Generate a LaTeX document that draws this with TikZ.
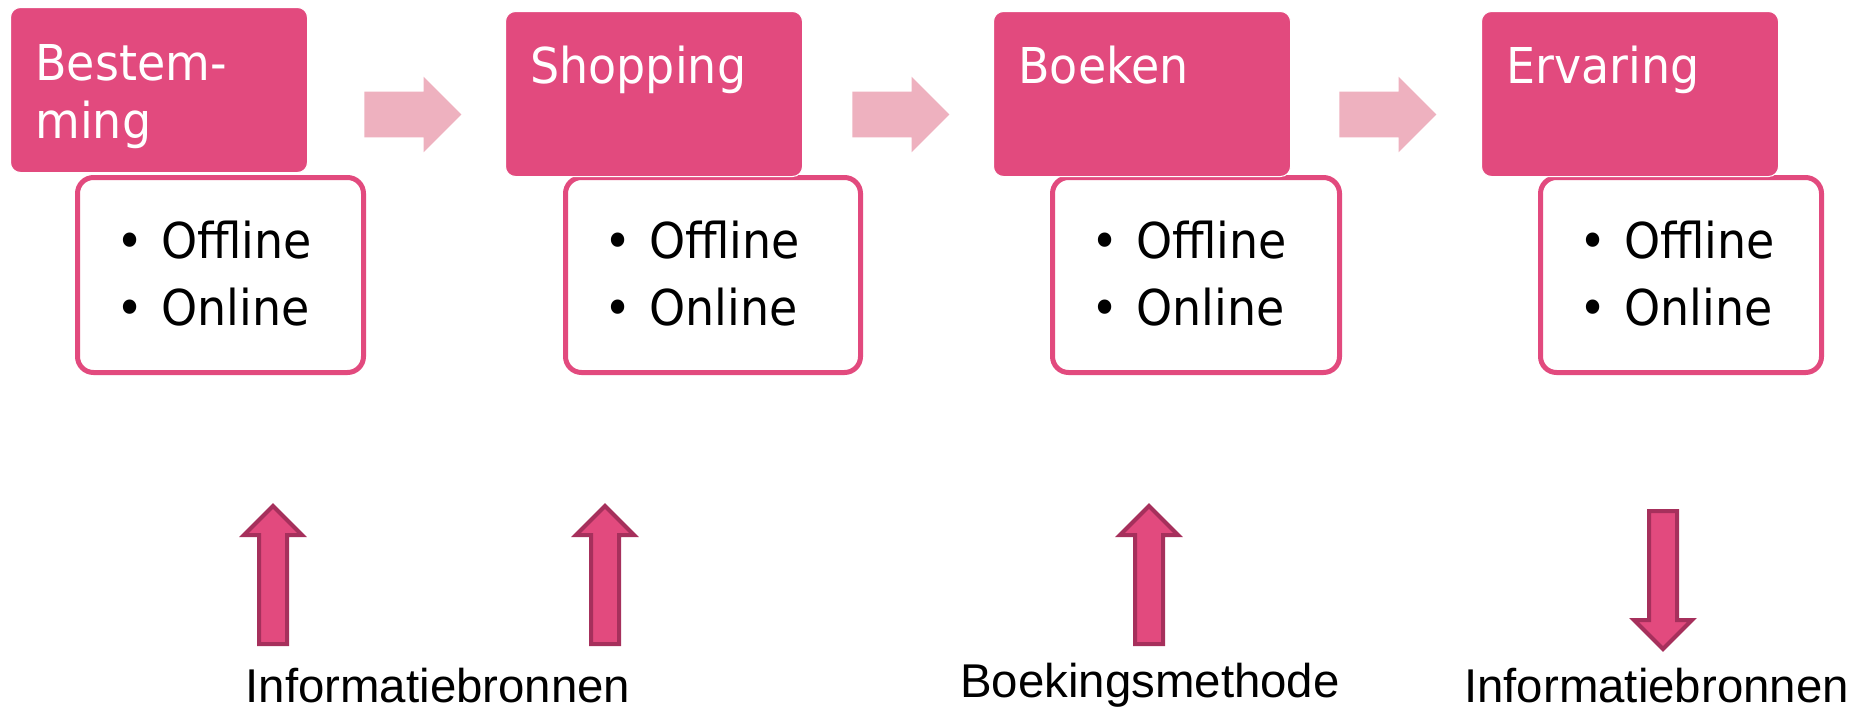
\documentclass[tikz,border=0pt]{standalone}
\usepackage{fontspec}
\setmainfont{Liberation Sans}
\newfontfamily\tahoma[FakeStretch=0.93]{DejaVu Sans}
\usepackage{tikz}
\usetikzlibrary{calc,shapes.arrows}
\definecolor{roze}{HTML}{E24A7E}
\definecolor{lichtroze}{HTML}{EEB1BF}
\definecolor{donkerroze}{HTML}{A6305C}
\newcommand{\blt}{\makebox[22.5pt][l]{\textbullet}}

\begin{document}
\begin{tikzpicture}[x=0.5pt,y=-0.5pt,
  fase/.style={fill=roze, draw=white, line width=0.5pt, rounded corners=5pt,
    minimum width=148.5pt, minimum height=82.5pt, anchor=north west, inner sep=0pt},
  fasetekst/.style={anchor=base west, inner sep=0pt, text=white, align=left,
    font=\tahoma\fontsize{24.7}{29}\selectfont},
  lijst/.style={fill=white, draw=roze, line width=2.5pt, rounded corners=8pt,
    minimum height=97.5pt, anchor=north west, inner sep=0pt},
  lijsttekst/.style={anchor=base west, inner sep=0pt, align=left,
    font=\tahoma\fontsize{24.7}{33.5}\selectfont},
  schakel/.style={single arrow, fill=lichtroze, minimum height=48.5pt,
    minimum width=37.5pt, single arrow head extend=7.5pt, single arrow tip angle=90,
    inner xsep=0pt, inner ysep=11.25pt, anchor=tail},
  bron/.style={single arrow, fill=roze, draw=donkerroze, line width=2pt,
    minimum height=69pt, minimum width=27pt, single arrow head extend=7.5pt,
    single arrow tip angle=90, inner xsep=0pt, inner ysep=6pt, anchor=tail},
  onder/.style={anchor=base, inner sep=0pt, font=\fontsize{23.7}{28}\selectfont}]
\useasboundingbox (0,0) rectangle (1872,713);

\node[lijst, minimum width=143pt] (bestemming-lijst) at (75,175) {};
\node[lijst, minimum width=147.5pt] (shopping-lijst) at (563,175) {};
\node[lijst, minimum width=143.5pt] (boeken-lijst) at (1050,175) {};
\node[lijst, minimum width=140.5pt] (ervaring-lijst) at (1538,175) {};

\node[fase] (bestemming) at (10,7) {};
\node[fase] (shopping) at (505,11) {};
\node[fase] (boeken) at (993,11) {};
\node[fase] (ervaring) at (1481,11) {};

\node[fasetekst] (bestemming-titel) at ($(bestemming.north west)+(25,131)$) {Bestem-\\ming};
\node[fasetekst] (shopping-titel) at ($(shopping.north west)+(25,72)$) {Shopping};
\node[fasetekst] (boeken-titel) at ($(boeken.north west)+(25,72)$) {Boeken};
\node[fasetekst] (ervaring-titel) at ($(ervaring.north west)+(25,72)$) {Ervaring};

\node[lijsttekst] (bestemming-tekst) at ($(bestemming-lijst.north west)+(41,150)$) {\blt Offline\\\blt Online};
\node[lijsttekst] (shopping-tekst) at ($(shopping-lijst.north west)+(41,150)$) {\blt Offline\\\blt Online};
\node[lijsttekst] (boeken-tekst) at ($(boeken-lijst.north west)+(41,150)$) {\blt Offline\\\blt Online};
\node[lijsttekst] (ervaring-tekst) at ($(ervaring-lijst.north west)+(41,150)$) {\blt Offline\\\blt Online};

\node[schakel] (pijl1) at (364,114.5) {};
\node[schakel] (pijl2) at (852,114.5) {};
\node[schakel] (pijl3) at (1339,114.5) {};

\node[bron, rotate=90] (bron1) at (273,646) {};
\node[bron, rotate=90] (bron2) at (605,646) {};
\node[bron, rotate=90] (bron3) at (1149,646) {};
\node[bron, rotate=-90] (bron4) at (1663,509) {};

\node[onder] (info1) at (438,702) {Informatiebronnen};
\node[onder] (boekingsmethode) at (1150,697) {Boekingsmethode};
\node[onder] (info2) at (1656.5,702) {Informatiebronnen};
\end{tikzpicture}
\end{document}
